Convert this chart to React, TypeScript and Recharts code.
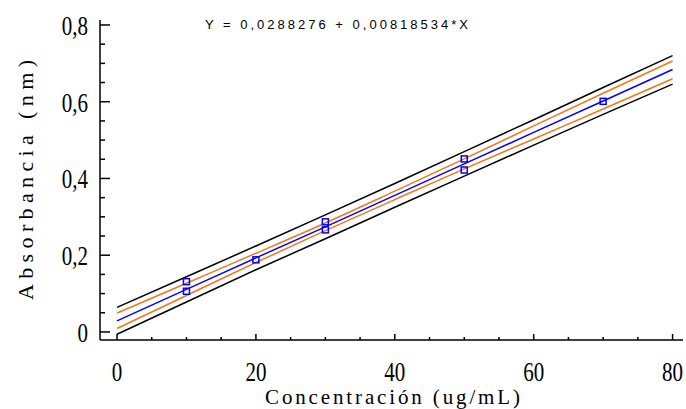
import { ComposedChart, Line, Scatter, XAxis, YAxis, Customized } from "recharts"

// curve sample points (concentration)
const conc = [0, 10, 20, 30, 40, 50, 60, 70, 80]
// fitted line
const fit = [0.029, 0.111, 0.193, 0.274, 0.356, 0.438, 0.52, 0.602, 0.684]
// confidence limits (orange)
const confUpper = [0.049, 0.127, 0.205, 0.284, 0.367, 0.451, 0.537, 0.622, 0.706]
const confLower = [0.009, 0.095, 0.181, 0.264, 0.345, 0.425, 0.503, 0.581, 0.66]
// prediction limits (black)
const predUpper = [0.064, 0.144, 0.224, 0.305, 0.387, 0.47, 0.553, 0.637, 0.72]
const predLower = [-0.006, 0.078, 0.162, 0.243, 0.325, 0.406, 0.487, 0.567, 0.646]

// observed points
const obsX = [10, 10, 20, 30, 30, 50, 50, 70]
const obsY = [0.131, 0.106, 0.188, 0.287, 0.266, 0.451, 0.422, 0.601]

const xTicks = [0, 5, 10, 15, 20, 25, 30, 35, 40, 45, 50, 55, 60, 65, 70, 75, 80]
const yTicks = [0, 0.05, 0.1, 0.15, 0.2, 0.25, 0.3, 0.35, 0.4, 0.45, 0.5, 0.55, 0.6, 0.65, 0.7, 0.75, 0.8]
const yMajor = [0, 0.2, 0.4, 0.6, 0.8]
const yLabels = ["0", "0,2", "0,4", "0,6", "0,8"]

const lineData = conc.map((x, i) => ({
  x,
  fit: fit[i],
  cu: confUpper[i],
  cl: confLower[i],
  pu: predUpper[i],
  pl: predLower[i]
}))

const pointData = obsX.map((x, i) => ({ x, y: obsY[i] }))

const serif = "'Liberation Serif', 'Times New Roman', serif"

function XTick(props: any) {
  const { x, y, payload } = props
  const v = payload.value
  const major = v % 20 === 0
  return (
    <g>
      <line x1={x} y1={y} x2={x} y2={y - (major ? 6 : 3)} stroke="#000" strokeWidth={1.5} />
      {major && (
        <text
          transform={`translate(${x},${y + 31}) scale(0.75,1)`}
          textAnchor="middle"
          dy="0.35em"
          style={{ fontFamily: serif, fontSize: 28 }}
          fill="#000"
        >
          {v}
        </text>
      )}
    </g>
  )
}

function YTick(props: any) {
  const { x, y, payload } = props
  const v = payload.value
  const idx = yMajor.findIndex((m) => Math.abs(m - v) < 1e-6)
  const major = idx >= 0
  return (
    <g>
      <line x1={x} y1={y} x2={x + (major ? 10 : 5)} y2={y} stroke="#000" strokeWidth={1.5} />
      {major && (
        <text
          transform={`translate(${x - 12},${y}) scale(0.75,1)`}
          textAnchor="end"
          dy="0.35em"
          style={{ fontFamily: serif, fontSize: 28 }}
          fill="#000"
        >
          {yLabels[idx]}
        </text>
      )}
    </g>
  )
}

function Square(props: any) {
  const { cx, cy } = props
  return <rect x={cx - 3} y={cy - 3} width={6} height={6} fill="none" stroke="#0000ff" strokeWidth={1.5} />
}

function Titles() {
  return (
    <g>
      <text
        x={205}
        y={29}
        textLength={263}
        lengthAdjust="spacing"
        style={{ fontFamily: "'Liberation Sans', Arial, sans-serif", fontSize: 13 }}
        fill="#000"
      >
        Y = 0,0288276 + 0,00818534*X
      </text>
      <text
        x={265}
        y={404}
        textLength={255}
        lengthAdjust="spacing"
        style={{ fontFamily: serif, fontSize: 21 }}
        fill="#000"
      >
        Concentración (ug/mL)
      </text>
      <text
        transform="translate(33,300) rotate(-90)"
        textLength={240}
        lengthAdjust="spacing"
        style={{ fontFamily: serif, fontSize: 22 }}
        fill="#000"
      >
        Absorbancia (nm)
      </text>
    </g>
  )
}

export default function App() {
  return (
    <div style={{ position: "absolute", left: 0, top: 0, background: "#fff" }}>
      <ComposedChart
        width={686}
        height={409}
        data={lineData}
        margin={{ top: 20, right: 3, bottom: 0, left: 0 }}
      >
        <XAxis
          dataKey="x"
          type="number"
          domain={[-2.45, 81.5]}
          ticks={xTicks}
          interval={0}
          allowDataOverflow
          height={69}
          tickSize={0}
          tickMargin={0}
          tickLine={false}
          tick={<XTick />}
          axisLine={{ stroke: "#000", strokeWidth: 1.5 }}
        />
        <YAxis
          type="number"
          domain={[-0.021, 0.813]}
          ticks={yTicks}
          interval={0}
          allowDataOverflow
          width={100}
          tickSize={0}
          tickMargin={0}
          tickLine={false}
          tick={<YTick />}
          axisLine={{ stroke: "#000", strokeWidth: 1.5 }}
        />
        <Line dataKey="pu" stroke="#000" strokeWidth={1.5} dot={false} isAnimationActive={false} />
        <Line dataKey="pl" stroke="#000" strokeWidth={1.5} dot={false} isAnimationActive={false} />
        <Line dataKey="cu" stroke="#f07818" strokeWidth={1.5} dot={false} isAnimationActive={false} type="monotone" />
        <Line dataKey="cl" stroke="#f07818" strokeWidth={1.5} dot={false} isAnimationActive={false} type="monotone" />
        <Line dataKey="fit" stroke="#0000ff" strokeWidth={1.5} dot={false} isAnimationActive={false} />
        <Scatter data={pointData} dataKey="y" shape={<Square />} isAnimationActive={false} />
        <Customized component={<Titles />} />
      </ComposedChart>
    </div>
  )
}
